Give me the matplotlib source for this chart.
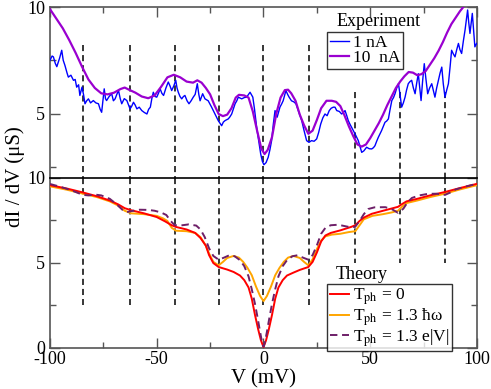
import matplotlib
matplotlib.use("Agg")
import matplotlib.pyplot as plt
from matplotlib.ticker import MultipleLocator

plt.rcParams["font.family"] = ["Liberation Serif", "DejaVu Serif"]
plt.rcParams["mathtext.fontset"] = "stix"
plt.rcParams["axes.unicode_minus"] = False

# ── Experiment: 1 nA (noisy) ──
v_1na = [-100, -99, -98.4, -97.5, -96.8, -95.5, -94.5, -93.8, -93, -92, -91.4, -90.2, -89, -88.2,
         -87.5, -86.6, -86, -85, -84.3, -83.6, -82.8, -82, -81, -79.7, -78.5, -77.3, -76.5, -75.8,
         -75.2, -74.6, -74, -73.5, -72.3, -71.1, -70.3, -69.5, -68.7, -67.9, -67.1, -66.4, -65.2,
         -64, -63.2, -62.5, -61.7, -60.9, -60.1, -59.3, -58.2, -57, -55.8, -54.6, -53.8, -53,
         -52.3, -51.6, -50.8, -50, -49.2, -48.4, -47.6, -46.8, -45.7, -44.6, -43.8, -43, -42,
         -41.1, -40.5, -39.9, -39.1, -38.3, -37.5, -36.8, -35.8, -34.9, -33.9, -32.9, -32, -31,
         -30.3, -29.7, -29, -28.5, -27.4, -25.9, -24.3, -22.7, -21.2, -19.6, -18.8, -18, -16.5,
         -15.7, -14.9, -13.3, -12.5, -11.8, -10.2, -9, -7.9, -6.3, -5, -4.2, -3.2, -2.2, -1.3,
         -0.5, 0.2, 1.2, 2.2, 3, 3.8, 4.6, 5.4, 6.4, 7.7, 8.5, 9.2, 10.5, 11.3, 12, 13.1, 14.2,
         15.2, 16.3, 17.9, 19, 20.2, 21.3, 22.5, 23.7, 24.9, 25.8, 26.8, 27.8, 28.8, 29.8, 30.8,
         31.7, 32.7, 33.5, 34.3, 35.5, 36.6, 37.4, 38.2, 39, 39.7, 40.5, 41.3, 42.1, 42.9, 43.6,
         44.4, 45.2, 46, 47, 48.3, 49.5, 50.7, 51.5, 52.2, 53, 53.8, 54.6, 55.3, 56.1, 56.9, 57.7,
         58.5, 59.3, 60.1, 60.9, 61.6, 62.4, 63.2, 63.9, 64.7, 65.5, 66.3, 67, 67.8, 68.6, 69.4,
         70.2, 71, 71.7, 72.5, 73.2, 73.8, 74.5, 75.3, 76.1, 76.9, 77.8, 78.8, 79.5, 80.3, 81.1,
         81.9, 82.7, 83.5, 84.2, 85, 85.8, 86.6, 87.4, 88.1, 88.9, 89.7, 90.5, 91.3, 92, 92.8,
         93.6, 94.4, 95, 95.6, 96.1, 96.7, 97.2, 97.8, 98.4, 99, 99.8]
g_1na = [7.5, 7.7, 7.66, 7.35, 7.2, 7.6, 7.97, 7.5, 7.26, 6.9, 6.71, 6.8, 6.56, 6.6,
         6.24, 6.35, 5.85, 6.24, 5.9, 5.46, 5.6, 5.69, 5.5, 5.61, 5.5, 5.46, 5.2, 5.06,
         5.6, 6.16, 5.7, 5.61, 5.8, 5.93, 5.6, 5.69, 5.9, 6.08, 5.7, 5.46, 5.7,
         5.61, 5.4, 5.22, 5.35, 5.53, 5.4, 5.22, 5.3, 5.14, 5.05, 4.98, 5.2, 5.3,
         5.7, 6.0, 5.8, 5.77, 5.95, 6.16, 5.95, 5.85, 6.2, 6.48, 6.3, 6.08, 6.3,
         6.56, 6.2, 6.0, 5.8, 5.69, 5.8, 5.85, 5.6, 5.46, 5.6, 5.77, 5.9, 6.4,
         5.9, 5.6, 5.8, 5.93, 5.69, 5.6, 5.3, 4.98, 4.67, 4.43, 4.6, 4.67, 4.75,
         4.85, 4.98, 5.46, 5.6, 5.77, 5.69, 5.75, 5.77, 6.0, 5.77, 5.2, 4.35, 3.7, 3.1,
         2.75, 2.6, 2.7, 2.95, 3.3, 3.73, 4.5, 5.14, 4.83, 5.3, 5.45, 5.6, 6.08, 5.9, 5.77, 5.6, 5.55,
         5.46, 5.14, 4.67, 4.2, 3.73, 3.65, 3.73, 3.7, 3.81, 4.1, 4.51, 4.8, 4.98, 4.9, 5.14,
         5.25, 5.3, 5.3, 5.14, 5.1, 4.98, 5.05, 5.14, 4.9, 4.67, 4.5, 4.35, 4.2, 4.04, 3.9,
         3.73, 3.45, 3.18, 3.25, 3.42, 3.35, 3.34, 3.4, 3.49, 3.7, 3.89, 4.05, 4.2, 4.4, 4.59, 4.65,
         4.75, 5.2, 5.61, 5.75, 5.93, 6.2, 6.4, 5.93, 5.3, 5.5, 5.77, 6.1, 6.4, 6.5, 6.56,
         6.2, 5.93, 6.4, 6.87, 6.2, 5.61, 6.5, 7.34, 6.6, 5.93, 6.2, 6.4, 6.1, 5.77, 6.2,
         6.56, 6.9, 7.18, 6.4, 5.77, 6.1, 6.4, 7.2, 7.97, 7.8, 7.66, 8.0, 8.29, 8.0, 7.82,
         8.4, 8.92, 9.4, 9.86, 9.3, 8.76, 9.2, 9.7, 8.9, 8.13, 8.29]

# ── Experiment: 10 nA ──
v_10na = [-100, -97, -94, -91, -88, -85, -82, -79, -76, -73, -70, -67, -65, -63, -60, -57, -54,
          -51, -48, -45, -42, -39, -36, -33, -31, -29, -27, -25, -23, -21, -19, -17, -15, -13,
          -11.5, -9, -7, -5, -3, -1, 0.5, 2, 4, 6, 8, 10, 11.5, 13, 15, 17, 19, 21, 23, 25, 27,
          29.5, 32, 34, 36, 38, 40, 42, 44, 46, 48, 50, 52, 54, 56, 58, 60, 62, 64, 66, 68, 70,
          72, 74, 76, 78, 80, 82, 84, 86, 88, 90, 92, 94, 97, 100]
g_10na = [9.9, 9.45, 9.0, 8.45, 7.85, 7.2, 6.6, 6.2, 5.95, 5.9, 5.98, 6.15, 6.22, 6.12, 5.98,
          5.8, 5.72, 5.85, 6.25, 6.7, 6.82, 6.7, 6.5, 6.45, 6.56, 6.45, 6.2, 5.9, 5.4, 4.98,
          4.88, 4.95, 5.25, 5.75, 5.88, 5.85, 5.75, 5.1, 4.2, 3.35, 3.1, 3.3, 3.9, 5.0, 5.75,
          6.1, 6.12, 5.95, 5.6, 4.95, 4.45, 4.05, 4.2, 4.7, 5.25, 5.6, 5.6, 5.55, 5.35, 4.9,
          4.4, 3.95, 3.55, 3.45, 3.55, 3.85, 4.2, 4.55, 4.95, 5.4, 5.8, 6.2, 6.5, 6.75, 6.95,
          6.92, 6.8, 6.85, 7.0, 7.3, 7.6, 7.95, 8.35, 8.8, 9.2, 9.5, 9.8, 10.05, 10.3, 10.6]

# ── Theory ──
v_t0 = [-100, -92, -84.5, -78, -72, -68, -65, -62, -56, -50, -46, -43, -41, -36, -32, -29.5,
        -27, -25.5, -23.5, -21, -17, -14, -11, -9, -7, -5.5, -4, -2.5, -1.2, 0, 1.2, 2.5, 4,
        5.5, 7, 9, 11, 14, 17, 21, 23, 25, 27, 29, 31.5, 36, 41, 43, 45, 47, 50.7, 56, 60,
        63, 65, 67, 72, 78, 85, 92, 100]
g_t0 = [9.55, 9.35, 9.12, 8.9, 8.65, 8.42, 8.2, 8.08, 7.9, 7.68, 7.42, 7.2, 7.1, 6.95, 6.75,
        6.45, 6.0, 5.45, 4.98, 4.75, 4.6, 4.46, 4.25, 3.98, 3.55, 2.9, 1.95, 1.1, 0.45, 0.05,
        0.45, 1.1, 1.95, 2.9, 3.55, 3.98, 4.25, 4.42, 4.58, 4.75, 5.05, 5.6, 6.25, 6.6, 6.75,
        6.9, 7.1, 7.2, 7.45, 7.65, 7.87, 8.05, 8.18, 8.28, 8.45, 8.6, 8.75, 8.95, 9.15, 9.38,
        9.63]

v_thw = [-100, -92, -84.5, -78, -72, -68, -65, -62, -56, -50, -47, -45, -43, -41, -36, -32,
         -29.5, -27, -25.5, -23.5, -21, -19, -17, -14, -11.5, -9.5, -7.5, -5.5, -3.5, -1.6, 0,
         1.6, 3.5, 5.5, 7.5, 9.5, 11.5, 14, 17, 19, 21, 23, 25, 27, 29, 32, 36, 40, 43, 45, 47,
         51, 56, 60, 63, 65, 67, 72, 78, 85, 92, 100]
g_thw = [9.48, 9.28, 9.05, 8.85, 8.6, 8.35, 8.05, 7.9, 7.85, 7.75, 7.6, 7.45, 7.05, 6.88, 6.85,
         6.75, 6.5, 6.0, 5.55, 5.05, 4.85, 5.05, 5.28, 5.4, 5.3, 5.05, 4.7, 4.27, 3.6, 3.05,
         2.75, 3.05, 3.6, 4.27, 4.7, 5.05, 5.3, 5.4, 5.28, 5.05, 4.85, 5.2, 5.8, 6.3, 6.55,
         6.65, 6.7, 6.8, 6.85, 7.2, 7.55, 7.75, 7.85, 7.95, 8.05, 8.3, 8.5, 8.65, 8.85, 9.05,
         9.3, 9.55]

v_tev = [-100, -95, -90, -87, -84.5, -82, -79, -76, -72, -69, -66, -64, -61, -58, -54, -51, -48,
         -45.5, -43.5, -41.5, -38, -35, -31.5, -29.5, -27.5, -25.5, -23.5, -21, -18.5, -16,
         -13.5, -11, -9, -7, -5.5, -4, -2.8, -1.6, -0.7, 0, 0.7, 1.6, 2.8, 4, 5.5, 7, 9, 11,
         13.5, 16, 18.5, 21, 23, 25, 27, 29, 31.5, 35, 38, 40, 42.9, 45, 47, 49, 52, 57, 60, 63,
         65.5, 67.5, 69.5, 73, 77, 81, 85, 87.5, 90, 95, 100]
g_tev = [9.62, 9.45, 9.25, 9.1, 8.98, 8.95, 9.0, 8.95, 8.75, 8.45, 8.1, 7.97, 8.05, 8.11, 8.1,
         8.05, 7.95, 7.8, 7.45, 7.2, 7.2, 7.25, 7.18, 6.95, 6.5, 5.85, 5.4, 5.18, 5.3, 5.44,
         5.38, 5.15, 4.8, 4.2, 3.45, 2.6, 1.8, 0.95, 0.35, 0.08, 0.35, 0.95, 1.8, 2.6, 3.45,
         4.2, 4.8, 5.15, 5.38, 5.44, 5.3, 5.18, 5.45, 6.02, 6.7, 7.05, 7.2, 7.23, 7.15, 7.1,
         7.1, 7.45, 7.85, 8.15, 8.25, 8.26, 8.15, 7.93, 8.17, 8.55, 8.8, 8.95, 9.04, 9.05,
         8.98, 9.12, 9.3, 9.48, 9.63]

# phonon markers: position, top of line in upper panel, end of line in lower panel
phonon_v = [-84.5, -62.5, -41.5, -21, 0, 21.3, 43, 64, 85]
phonon_top = [8.2, 8.2, 8.2, 8.2, 8.2, 8.2, 6.0, 6.0, 6.0]
phonon_bot = [2.5, 2.5, 2.5, 2.5, 2.5, 2.5, 5.0, 5.0, 5.0]

BLUE = "#0000ff"
VIOLET = "#9a00d0"
RED = "#ff0000"
ORANGE = "#ffa500"
MAROON = "#6e1f68"
FRAME = "#555555"

fig = plt.figure(figsize=(4.91, 3.89), dpi=100)
ax1 = fig.add_axes([0.1018, 0.5437, 0.8697, 0.4383])
ax2 = fig.add_axes([0.1018, 0.1054, 0.8697, 0.4383], sharex=ax1)

dash_kw = dict(color="black", lw=1.1, dashes=(4.0, 2.6), zorder=1)
for v, t, b in zip(phonon_v, phonon_top, phonon_bot):
    ax1.plot([v, v], [t, 2], **dash_kw)
    ax2.plot([v, v], [10, b], **dash_kw)

ax1.plot(v_1na, g_1na, color=BLUE, lw=1.0, label="1 nA", zorder=3)
ax1.plot(v_10na, g_10na, color=VIOLET, lw=1.6, label="10  nA", zorder=4)

ax2.plot(v_t0, g_t0, color=RED, lw=1.4, label=r"T$_{\rm ph}$ = 0", zorder=4)
ax2.plot(v_thw, g_thw, color=ORANGE, lw=1.4, label=r"T$_{\rm ph}$ = 1.3 ħω", zorder=3)
ax2.plot(v_tev, g_tev, color=MAROON, lw=1.4, dashes=(3.8, 2.4),
         label=r"T$_{\rm ph}$ = 1.3 e|V|", zorder=5)

ax1.set_xlim(-100, 100)
ax1.set_ylim(2, 10)
ax2.set_ylim(0, 10)

for ax in (ax1, ax2):
    ax.xaxis.set_major_locator(MultipleLocator(50))
    ax.xaxis.set_minor_locator(MultipleLocator(25))
    ax.yaxis.set_major_locator(MultipleLocator(5))
    ax.yaxis.set_minor_locator(MultipleLocator(2.5))
    for s in ax.spines.values():
        s.set_color(FRAME)
        s.set_linewidth(1.2)
    ax.tick_params(which="both", direction="in", color=FRAME, width=1.0,
                   labelsize=13, right=True)
    ax.tick_params(which="major", length=7)
    ax.tick_params(which="minor", length=4)

ax1.tick_params(which="both", top=True, bottom=False, labelbottom=False)
ax2.tick_params(which="both", top=False, bottom=True)
ax2.tick_params(axis="x", pad=2)
ax1.spines["bottom"].set_visible(False)
ax2.spines["top"].set_color("black")

ax2.set_xlabel("V (mV)", fontsize=15, labelpad=1)
fig.text(0.03, 0.545, "dI / dV (μS)", rotation=90, fontsize=15,
         ha="center", va="center")

leg_kw = dict(loc="upper left", fontsize=12.5, frameon=True, fancybox=False,
              edgecolor="black", borderaxespad=0, handlelength=1.1,
              handletextpad=0.25, borderpad=0.15, labelspacing=-0.05)
lg1 = ax1.legend(bbox_to_anchor=(0.649, 0.853), **leg_kw)
lg1.get_frame().set_linewidth(1.0)
ax1.text(0.67, 0.915, "Experiment", transform=ax1.transAxes, fontsize=13,
         ha="left", va="center")

lg2 = ax2.legend(bbox_to_anchor=(0.649, 0.375), **leg_kw)
lg2.get_frame().set_linewidth(1.0)
ax2.text(0.67, 0.43, "Theory", transform=ax2.transAxes, fontsize=13,
         ha="left", va="center")

fig.savefig("out.png", dpi=100)
